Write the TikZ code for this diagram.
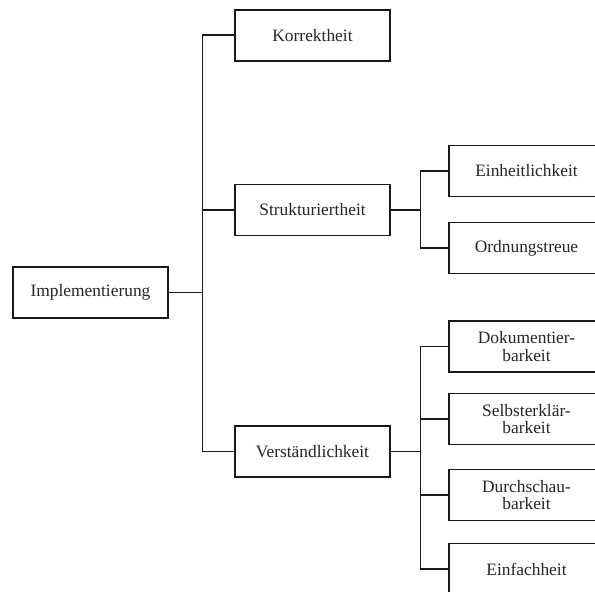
\documentclass[tikz,border=0pt]{standalone}
\usepackage{fontspec}
\setmainfont{Liberation Serif}
\begin{document}
\begin{tikzpicture}[x=1pt,y=-1pt,
  box/.style={draw=black!90, line width=1.8pt, minimum width=155pt, minimum height=51pt,
    inner sep=0pt, font=\fontsize{17.4}{17.5}\selectfont, text=black!85, align=center},
  link/.style={draw=black!90, line width=1.8pt}]
\useasboundingbox (0,0) rectangle (595,592);
\clip (0,0) rectangle (595,592);
\fill[white] (0,0) rectangle (595,592);
\node[box] (impl) at (90.5,292.5) {Implementierung};
\node[box] (korr) at (312.5,35.3) {Korrektheit};
\node[box] (strukt) at (312.5,210) {Strukturiertheit};
\node[box] (verst) at (312.5,451.5) {Verständlichkeit};
\node[box] (einh) at (526.5,171) {Einheitlichkeit};
\node[box] (ordn) at (526.5,248) {Ordnungstreue};
\node[box] (doku) at (526.5,346.5) {Dokumentier-\\barkeit};
\node[box] (selbst) at (526.5,419) {Selbsterklär-\\barkeit};
\node[box] (durch) at (526.5,495) {Durchschau-\\barkeit};
\node[box] (einf) at (526.5,569) {Einfachheit};
\foreach \c in {korr,strukt,verst}
  \draw[link] (impl.east) -- ++(33.5,0) |- (\c.west);
\foreach \c in {einh,ordn}
  \draw[link] (strukt.east) -- ++(29.5,0) |- (\c.west);
\foreach \c in {doku,selbst,durch,einf}
  \draw[link] (verst.east) -- ++(29.5,0) |- (\c.west);
\end{tikzpicture}
\end{document}
